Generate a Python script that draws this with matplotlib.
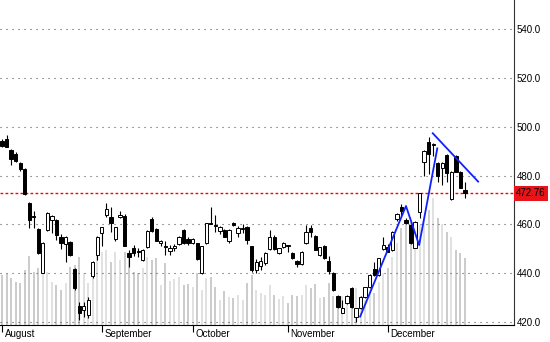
import matplotlib.pyplot as plt

# velas diarias: apertura, maximo, minimo, cierre
opens = [494, 495, 490.5, 489, 485.2, 482.6, 468.8, 463.3, 458, 440.2,
         457.7, 461.8, 461.8, 455, 452, 452.8, 441.6, 426.5, 425, 423,
         438.8, 447.4, 456.3, 463.8, 463, 453.9, 462.8, 463.3, 448.4, 450.5,
         449, 445.4, 450.8, 462, 458, 452.2, 451.2, 449, 450.5, 452,
         457.5, 454, 452.5, 452.2, 440.2, 452.5, 460.3, 459.6, 457.3, 457.5,
         453, 460.4, 456.5, 458, 458.8, 451, 441.3, 443, 444.3, 449.8,
         455, 448.3, 450.6, 451.3, 448.4, 445.1, 443.8, 452.2, 458.3, 455.2,
         447.4, 451, 445.1, 440.2, 430.6, 423.8, 427.6, 434, 422.2, 425.6,
         430.4, 434.2, 441.6, 439.2, 449.8, 450.6, 449.5, 462.1, 467.2, 461.8,
         459.6, 450.5, 464.9, 485.6, 493.8, 492.5, 485, 483, 488.4, 470.4,
         488.1, 481.6, 474]
highs = [495, 496.5, 491, 489.5, 485.5, 483, 469.3, 465.5, 458.3, 452.8,
         465.2, 463.8, 462, 456, 455.3, 453, 442, 428, 428.3, 430.4,
         445, 455.3, 459, 468.6, 467, 459, 465.5, 464.3, 449.5, 451.5,
         450.5, 450, 457.5, 463, 458.3, 453.5, 453, 451.5, 452, 455.3,
         458, 455, 454.5, 452.5, 451.2, 460.6, 467, 464, 459.2, 458,
         458, 460.8, 459.5, 460, 459.3, 451.2, 446, 446.5, 448.5, 457.5,
         455.5, 450.5, 452.8, 451.5, 448.6, 445.3, 449, 459.8, 459.8, 455.5,
         450.8, 451.5, 447, 440.5, 431, 429, 431, 434.4, 425.8, 430.6,
         434.5, 439.5, 444.4, 446.4, 455, 452, 457.3, 464.5, 468.5, 462.5,
         460, 461.3, 472.9, 490.3, 495.8, 493.5, 485.5, 485.5, 489, 481.8,
         488.5, 482, 477.5]
lows = [491.5, 491.5, 484.5, 485.5, 482, 472, 458.4, 458.4, 448, 440,
        457.2, 456.3, 453.6, 449.8, 444.7, 447, 433, 421, 422.2, 421.5,
        438, 445.4, 451, 463, 457, 453, 462.5, 451, 442.4, 447,
        446.7, 445, 450.5, 457, 453, 451, 447.4, 447.5, 449, 451.5,
        452, 451.5, 452, 445.5, 439.5, 452, 460.1, 457, 456, 454.7,
        452.5, 459.3, 455, 456.5, 451.8, 440.5, 440, 441.5, 443.5, 449.5,
        449.5, 448, 450.3, 448.5, 445.8, 442.4, 443.5, 452, 455, 449.3,
        447, 445.8, 439.5, 432.8, 425.6, 423.5, 427.3, 425.7, 420.1, 425.3,
        430, 433.8, 439, 438.8, 449.5, 448.5, 449.2, 461.5, 463.5, 460,
        452, 450.3, 462.4, 480, 480.5, 488, 477.5, 476, 477.5, 469.8,
        481.4, 474.8, 470.8]
closes = [492, 491.8, 486.8, 486, 482.8, 472.5, 461.8, 462.9, 448.3, 452.5,
          464.5, 463.4, 455.6, 452.3, 455, 447.4, 433.8, 423.6, 426.5, 429,
          444.7, 455, 458.8, 466.2, 460.4, 458.8, 463.8, 451.1, 446.8, 448.4,
          448.6, 449.5, 457.3, 457.4, 453.3, 453.3, 450.8, 450.5, 451.2, 455,
          452.5, 452.2, 454, 445.7, 451, 460.4, 460, 459.3, 459, 454.9,
          457.6, 459.6, 458.3, 458.5, 453.6, 441.3, 444.7, 445, 448.1, 455,
          449.8, 450.3, 452.5, 451, 446.1, 443.8, 448.7, 457, 457, 449.5,
          450.6, 446.1, 441, 433.1, 426.3, 425.6, 430.6, 426, 425.6, 430.4,
          434.2, 439.2, 439.2, 446.1, 451.5, 448.8, 457, 464.2, 465.4, 460.4,
          452.5, 461.1, 472.7, 490, 489, 492.8, 480, 485, 480.9, 481.6,
          481.6, 475, 472.76]
volumes = [500, 510, 470, 430, 420, 550, 690, 530, 570, 650,
           530, 430, 400, 350, 420, 580, 600, 680, 520, 420,
           580, 750, 730, 750, 630, 730, 650, 730, 670, 530,
           520, 570, 680, 650, 670, 400, 620, 440, 460, 480,
           400, 410, 380, 520, 350, 470, 480, 380, 250, 340,
           280, 270, 300, 250, 420, 500, 350, 320, 300, 400,
           300, 260, 290, 220, 300, 290, 300, 400, 370, 410,
           270, 280, 420, 290, 250, 290, 280, 280, 370, 290,
           250, 350, 320, 430, 520, 570, 680, 820, 970, 1020,
           1030, 970, 1000, 1050, 1150, 1270, 1070, 1010, 930, 880,
           750, 720, 670]

month_names = ["August", "September", "October", "November", "December"]
month_starts = [0, 22, 42, 63, 85]
price_ticks = [420, 440, 460, 480, 500, 520, 540]

# lineas de tendencia dibujadas a mano
trend_up_x = [78.9, 89.0, 91.9, 95.9]
trend_up_y = [422.2, 467.5, 451.5, 491.1]
trend_down_x = [94.9, 104.9]
trend_down_y = [497.3, 477.5]

last_price = 472.76

x = list(range(len(closes)))

fig = plt.figure(figsize=(5.5, 3.42), dpi=100)
plt.rcParams['font.family'] = ['Liberation Sans', 'DejaVu Sans']
rect = [0, 17 / 342, 514 / 550, 325 / 342]

# volumen al fondo
vol_ax = fig.add_axes(rect)
vol_colors = ['#d8d8d8' if c >= o else '#bdbdbd' for o, c in zip(opens, closes)]
vol_ax.vlines(x, 0, volumes, colors=vol_colors, linewidth=1.1)
vol_ax.set_ylim(0, 3250)
vol_ax.set_xlim(-0.44, 112.8)
vol_ax.axis('off')

# precios encima
ax = fig.add_axes(rect)
ax.patch.set_visible(False)
ax.set_xlim(-0.44, 112.8)
ax.set_ylim(418.77, 551.88)

ax.grid(axis='y', color='#555555', linestyle=(0, (1, 4.4)), linewidth=0.8)
ax.axhline(last_price, color='#ff0000', linewidth=1.0, linestyle=(0, (2, 1.6)), zorder=2)

# mechas y cuerpos
ax.vlines(x, lows, highs, color='black', linewidth=0.8, zorder=3)
body_low = [min(o, c) for o, c in zip(opens, closes)]
body_h = [max(abs(c - o), 0.35) for o, c in zip(opens, closes)]
body_col = ['white' if c >= o else 'black' for o, c in zip(opens, closes)]
ax.bar(x, body_h, bottom=body_low, width=0.72, color=body_col,
       edgecolor='black', linewidth=0.7, zorder=4)

ax.plot(trend_up_x, trend_up_y, color='#1020ff', linewidth=1.3, zorder=5)
ax.plot(trend_down_x, trend_down_y, color='#1020ff', linewidth=1.3, zorder=5)

# ejes
ax.yaxis.tick_right()
ax.set_yticks(price_ticks)
ax.set_yticklabels([f"{v:.1f}" for v in price_ticks])
ax.tick_params(axis='y', length=0, pad=2, labelsize=7)
ax.set_xticks(month_starts)
ax.set_xticklabels([])
ax.tick_params(axis='x', direction='out', length=5, width=0.8, color='black')
for pos, name in zip(month_starts, month_names):
    ax.text(pos + 0.6, -0.012, name, transform=ax.get_xaxis_transform(),
            ha='left', va='top', fontsize=7)

ax.text(1.004, last_price, f"{last_price:.2f}", transform=ax.get_yaxis_transform(),
        ha='left', va='center', fontsize=7,
        bbox=dict(boxstyle='square,pad=0.25', fc='#e8141a', ec='none'))

ax.spines['left'].set_visible(False)
ax.spines['top'].set_visible(False)
ax.spines['right'].set_color('#333333')
ax.spines['bottom'].set_color('black')

fig.savefig('out.png', dpi=100)
